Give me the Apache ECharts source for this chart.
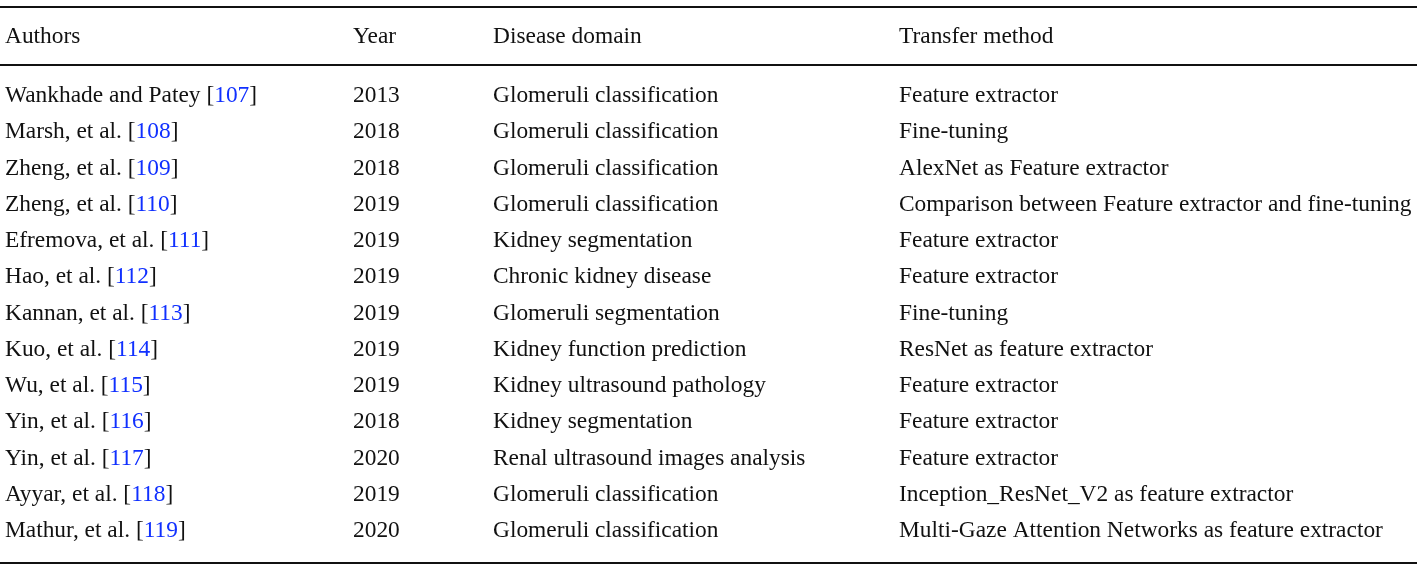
<!DOCTYPE html>
<html><head><meta charset="utf-8">
<script src="https://cdn.jsdelivr.net/npm/echarts@6/dist/echarts.min.js"></script>
<style>html,body{margin:0;background:#fff}#c{width:1417px;height:568px}</style>
</head><body><div id="c"></div>
<script>
const headers = ['Authors','Year','Disease domain','Transfer method'];
const authors = ['Wankhade and Patey','Marsh, et al.','Zheng, et al.','Zheng, et al.','Efremova, et al.','Hao, et al.','Kannan, et al.','Kuo, et al.','Wu, et al.','Yin, et al.','Yin, et al.','Ayyar, et al.','Mathur, et al.'];
const refs = ['107','108','109','110','111','112','113','114','115','116','117','118','119'];
const years = ['2013','2018','2018','2019','2019','2019','2019','2019','2019','2018','2020','2019','2020'];
const domains = ['Glomeruli classification','Glomeruli classification','Glomeruli classification','Glomeruli classification','Kidney segmentation','Chronic kidney disease','Glomeruli segmentation','Kidney function prediction','Kidney ultrasound pathology','Kidney segmentation','Renal ultrasound images analysis','Glomeruli classification','Glomeruli classification'];
const methods = ['Feature extractor','Fine-tuning','AlexNet as Feature extractor','Comparison between Feature extractor and fine-tuning','Feature extractor','Feature extractor','Fine-tuning','ResNet as feature extractor','Feature extractor','Feature extractor','Feature extractor','Inception_ResNet_V2 as feature extractor','Multi-Gaze Attention Networks as feature extractor'];

const colX = [5, 353, 493, 899];
const FS = 23.4;
const font = {fontFamily:'Liberation Serif', fontSize:FS, color:'#111'};
const cols = [
  authors.map((a,i)=>a+' ['+'{r|'+refs[i]+'}]'),
  years, domains, methods
];
const series = cols.map((col,c)=>({
  type:'scatter', symbolSize:0, silent:true, itemStyle:{opacity:1},
  data: col.map((t,i)=>({value:[colX[c], i], label:{formatter:t}})),
  label:{show:true, opacity:1, position:'right', distance:0, align:'left', verticalAlign:'middle', ...font,
    rich:{r:{fontFamily:'Liberation Serif', fontSize:FS, color:'#1030ff'}}}
}));
const chart = echarts.init(document.getElementById('c'));
chart.setOption({
  animation:false,
  grid:{left:0,right:0,top:96,bottom:37},
  xAxis:{type:'value',min:0,max:1417,show:false},
  yAxis:{type:'value',min:0,max:authors.length-1,inverse:true,show:false},
  series,
  graphic:[
    {type:'line',shape:{x1:0,y1:7,x2:1417,y2:7},style:{stroke:'#111',lineWidth:2}},
    {type:'line',shape:{x1:0,y1:65,x2:1417,y2:65},style:{stroke:'#111',lineWidth:2}},
    {type:'line',shape:{x1:0,y1:563,x2:1417,y2:563},style:{stroke:'#111',lineWidth:2}},
    ...headers.map((h,i)=>({type:'text',x:colX[i],y:37,style:{text:h,font:FS+'px "Liberation Serif"',fill:'#111',verticalAlign:'middle'}}))
  ]
});
</script></body></html>
